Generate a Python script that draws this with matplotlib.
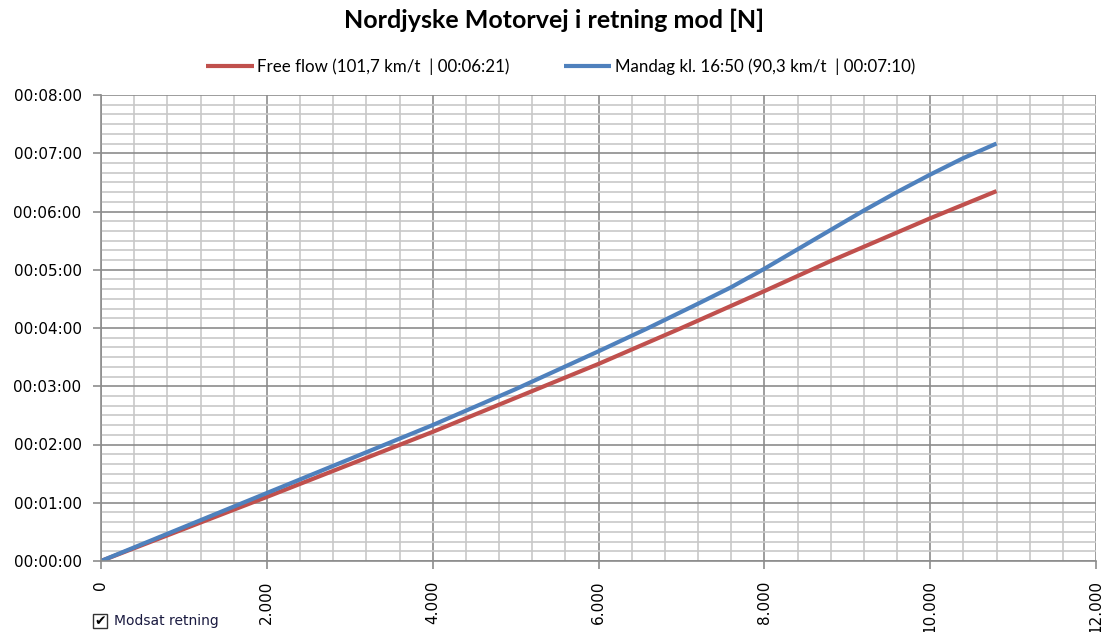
import matplotlib
matplotlib.use("Agg")
import matplotlib.pyplot as plt
from matplotlib.ticker import MultipleLocator, FuncFormatter
from matplotlib.patches import Rectangle

# Data (distance in metres, travel time in seconds)
dist_free = [0, 2000, 4000, 6000, 7000, 8000, 8800, 10000, 10800]
time_free = [0, 66, 133, 203, 240, 278, 309, 353, 381]

dist_mon = [0, 1000, 2000, 3000, 4000, 5000, 6000, 6600, 7200, 7600, 8000,
            8400, 8800, 9200, 9600, 10000, 10400, 10800]
time_mon = [0, 35, 70, 105, 140, 177, 216, 240, 265, 282, 301,
            321, 341, 361, 380, 398, 415, 430]

label_free = "Free flow (101,7 km/t  | 00:06:21)"
label_mon = "Mandag kl. 16:50 (90,3 km/t  | 00:07:10)"
title = "Nordjyske Motorvej i retning mod [N]"
checkbox_label = "Modsat retning"

fig = plt.figure(figsize=(11.08, 6.32), dpi=100)
ax = fig.add_axes([101/1108, 1 - 561/632, 995/1108, 466/632])

ax.plot(dist_free, time_free, color="#c0504d", lw=3, label=label_free,
        solid_capstyle="butt", solid_joinstyle="round")
ax.plot(dist_mon, time_mon, color="#4f81bd", lw=3, label=label_mon,
        solid_capstyle="butt", solid_joinstyle="round")

ax.set_xlim(0, 12000)
ax.set_ylim(0, 480)
ax.xaxis.set_major_locator(MultipleLocator(2000))
ax.xaxis.set_minor_locator(MultipleLocator(400))
ax.yaxis.set_major_locator(MultipleLocator(60))
ax.yaxis.set_minor_locator(MultipleLocator(10))

def fmt_time(v, pos):
    s = int(round(v))
    return "%02d:%02d:%02d" % (s // 3600, (s % 3600) // 60, s % 60)

def fmt_dist(v, pos):
    return "{:,}".format(int(round(v))).replace(",", ".")

ax.yaxis.set_major_formatter(FuncFormatter(fmt_time))
ax.xaxis.set_major_formatter(FuncFormatter(fmt_dist))

ax.grid(which="major", color="#8c8c8c", lw=1.2)
ax.grid(which="minor", color="#c8c8c8", lw=1.2)
ax.set_axisbelow(True)
for s in ["top", "right"]:
    ax.spines[s].set_visible(False)
for s in ["left", "bottom"]:
    ax.spines[s].set_color("#8c8c8c")
    ax.spines[s].set_linewidth(1.2)

ax.tick_params(axis="both", which="minor", length=0)
ax.tick_params(axis="both", which="major", length=6, color="#8c8c8c", width=1.2,
               labelsize=11, labelcolor="black")
ax.tick_params(axis="x", which="major", labelrotation=90, pad=8)
ax.tick_params(axis="y", which="major", pad=8)
for lbl in ax.get_xticklabels():
    lbl.set_verticalalignment("top")

fig.text(0.5, 1 - 20/632, title, ha="center", va="center", fontsize=18,
         fontweight="bold", family="Lato")

leg = fig.legend(loc="center", bbox_to_anchor=(0.506, 1 - 67/632), ncol=2,
                 frameon=False, prop={"family": "Lato", "size": 12.2},
                 handlelength=2.8, handletextpad=0.2, columnspacing=3.2)

# checkbox
fig.patches.append(Rectangle((93/1108, 1 - 628/632), 14/1108, 14/632,
                             transform=fig.transFigure, facecolor="white",
                             edgecolor="#333333", lw=1))
fig.text(100/1108, 1 - 621/632, "\u2714", ha="center", va="center", fontsize=10,
         family="DejaVu Sans")
fig.text(114/1108, 1 - 621/632, checkbox_label, ha="left", va="center",
         fontsize=10, family="DejaVu Sans", color="#1a1a40")

fig.savefig("out.png", dpi=100)
